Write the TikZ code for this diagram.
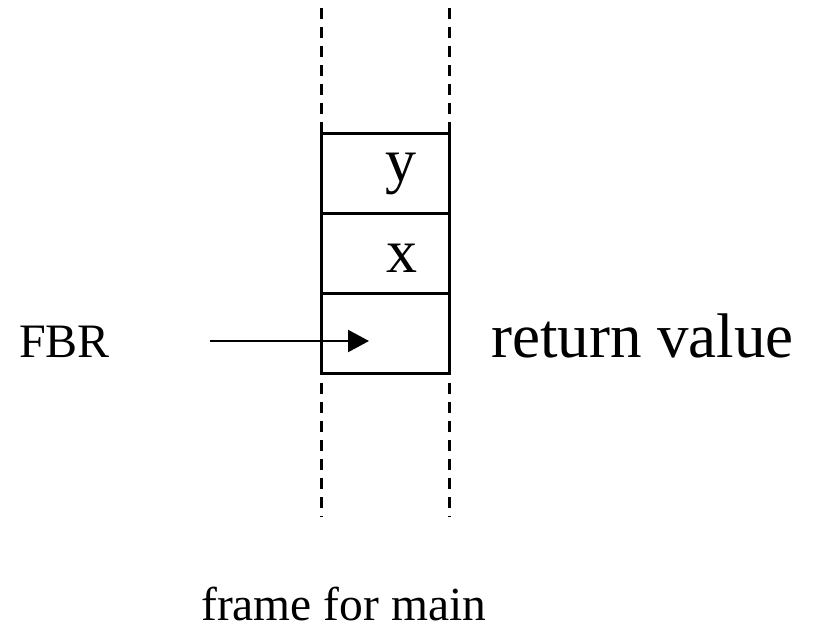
\documentclass[tikz,border=0pt]{standalone}
\usepackage{fontspec}
\setmainfont{Liberation Serif}
\usetikzlibrary{arrows.meta}
\begin{document}
\begin{tikzpicture}[x=1pt,y=-1pt,
  cell/.style={draw,line width=3pt,minimum width=128pt,minimum height=80pt,inner sep=0pt,outer sep=0pt},
  dashline/.style={line width=3pt,dash pattern=on 11pt off 8pt},
  bigtxt/.style={font=\fontsize{62}{70}\selectfont,inner sep=0pt,anchor=base},
  smalltxt/.style={font=\fontsize{48}{54}\selectfont,inner sep=0pt,anchor=base west}]
\useasboundingbox (0,0) rectangle (815,635);
% stack cells
\node[cell] (c1) at (385,173) {};
\node[cell] (c2) at (385,253) {};
\node[cell] (c3) at (385,333) {};
% dashed continuations
\coordinate (tl) at (321,8);
\coordinate (tr) at (449,8);
\coordinate (bl) at (321,517);
\coordinate (br) at (449,517);
\draw[dashline] (tl) -- (c1.north west);
\draw[dashline] (tr) -- (c1.north east);
\draw[dashline,dash phase=9pt] (c3.south west) -- (bl);
\draw[dashline,dash phase=9pt] (c3.south east) -- (br);
% labels in cells
\node[bigtxt] (ly) at (401,181) {y};
\node[bigtxt] (lx) at (402,272) {x};
% FBR arrow
\node[smalltxt] (fbr) at (19,357) {FBR};
\coordinate (as) at (210,341);
\coordinate (ae) at (369,341);
\draw[line width=2.2pt,-{Triangle[length=21pt,width=22pt]}] (as) -- (ae);
% return value
\node[font=\fontsize{63}{70}\selectfont,inner sep=0pt,anchor=base west] (rv) at (491,357) {return value};
% frame for main
\node[smalltxt,font=\fontsize{47.5}{54}\selectfont] (fm) at (201,620) {frame for main};
\end{tikzpicture}
\end{document}
